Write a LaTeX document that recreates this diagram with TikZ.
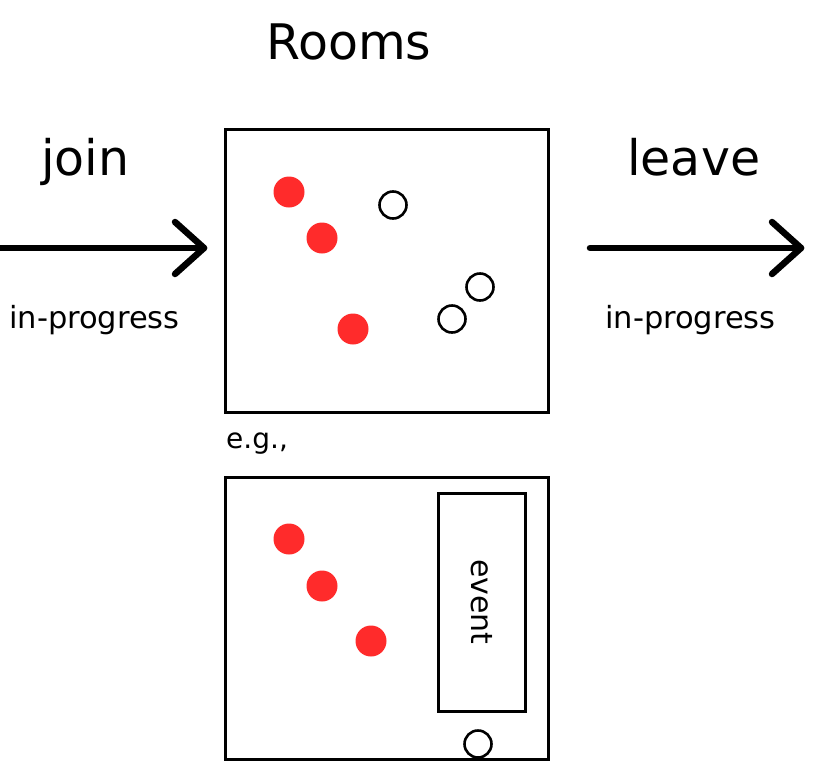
\documentclass[tikz,border=0pt]{standalone}
\usepackage{fontspec}
\setmainfont{DejaVu Sans}
\definecolor{dotred}{RGB}{255,43,43}
\begin{document}
\begin{tikzpicture}[x=1pt,y=-1pt,
  room/.style={draw=black, line width=3pt, fill=white, rectangle, inner sep=0pt},
  reddot/.style={circle, fill=dotred, inner sep=0pt, minimum size=31pt},
  opendot/.style={circle, draw=black, line width=2.6pt, fill=white, inner sep=0pt, minimum size=27pt},
  arrowline/.style={line width=6.5pt, line cap=round, line join=round},
  big/.style={inner sep=0pt, anchor=base west, font=\fontsize{49}{58}\selectfont},
  small/.style={inner sep=0pt, anchor=base west, font=\fontsize{28}{34}\selectfont},
  prog/.style={inner sep=0pt, anchor=base west, font=\fontsize{30.5}{36}\selectfont}]
\useasboundingbox (0,0) rectangle (827,774);

% titles
\node[big] (title) at (266,59) {Rooms};
\node[big] (join) at (41,175) {join};
\node[big] (leave) at (627,175) {leave};
\node[prog] (lip) at (9,328) {in-progress};
\node[prog] (rip) at (605,328) {in-progress};
\node[small] (eg) at (226,448) {e.g.,};

% top room
\node[room, minimum width=323pt, minimum height=283pt] (top) at (386.5,270.5) {};
\node[reddot] (r1) at (289,192) {};
\node[reddot] (r2) at (322,238) {};
\node[reddot] (r3) at (353,329) {};
\node[opendot] (o1) at (393,205) {};
\node[opendot] (o2) at (480,287) {};
\node[opendot] (o3) at (452,319) {};

% bottom room
\node[room, minimum width=323pt, minimum height=282pt] (bot) at (386.5,618) {};
\node[room, minimum width=87pt, minimum height=218pt] (event) at (481.5,602) {};
\node[rotate=-90, inner sep=0pt, font=\fontsize{30}{36}\selectfont] (eventlabel) at (482,602) {event};
\node[reddot] (b1) at (289,539) {};
\node[reddot] (b2) at (322,586) {};
\node[reddot] (b3) at (371,641) {};
\node[opendot] (b4) at (478,744) {};

% arrows
\coordinate (ls) at (-2,248);
\coordinate (le) at (204,248);
\coordinate (rs) at (590,248);
\coordinate (re) at (801,248);
\draw[arrowline] (ls) -- (le);
\draw[arrowline] (le) ++(-29,-26) -- (le) -- ++(-29,26);
\draw[arrowline] (rs) -- (re);
\draw[arrowline] (re) ++(-29,-26) -- (re) -- ++(-29,26);
\end{tikzpicture}
\end{document}
